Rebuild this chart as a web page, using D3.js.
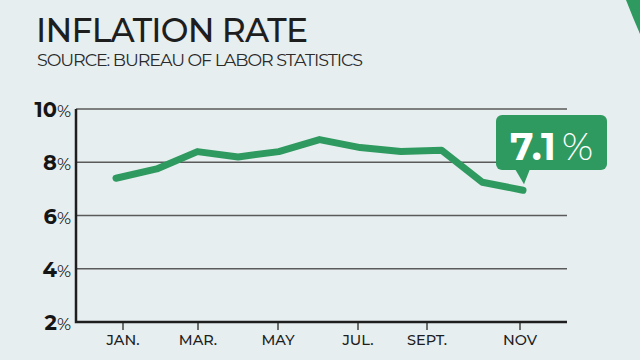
<!DOCTYPE html>
<html><head><meta charset="utf-8">
<script src="https://cdn.jsdelivr.net/npm/d3@7"></script>
<style>
html,body{margin:0;padding:0;background:#e7eef0;}
svg{display:block;font-family:Montserrat,"Open Sans","Noto Sans",sans-serif;}
</style></head>
<body><svg id="c" width="640" height="360"></svg>
<script>
const months = [1,2,3,4,5,6,7,8,9,10,11];
const inflation = [7.4, 7.75, 8.4, 8.2, 8.4, 8.85, 8.55, 8.4, 8.45, 7.25, 6.95];
const tickMonths = [1,3,5,7,9,11];
const tickLabels = ["JAN.","MAR.","MAY","JUL.","SEPT.","NOV"];
const yTicks = [2,4,6,8,10];
const latestLabel = "7.1";

const svg = d3.select("#c");
const green = "#2f9a5f";

// decorative corner shape
svg.append("path").attr("d","M626,0 Q633,18 640,34 L640,0 Z").attr("fill",green);

svg.append("text").attr("x",36).attr("y",42).attr("font-size",33).attr("font-weight",500)
  .attr("fill","#1e1e1e").attr("textLength",272).text("INFLATION RATE");
svg.append("text").attr("x",37).attr("y",66).attr("font-size",17.5).attr("fill","#2a2a2a")
  .attr("textLength",326).text("SOURCE: BUREAU OF LABOR STATISTICS");

const x = d3.scaleLinear().domain([1,11]).range([116,523]);
const y = d3.scaleLinear().domain([2,10]).range([322,109]);
const left = 76, right = 567;

// gridlines
svg.append("g").selectAll("line").data(yTicks.filter(d=>d>2)).join("line")
  .attr("x1",left).attr("x2",right).attr("y1",d=>y(d)).attr("y2",d=>y(d))
  .attr("stroke","#5a5a5a").attr("stroke-width",1.6);

// x axis
const xAxis = d3.axisBottom(x).tickValues(tickMonths).tickFormat((d,i)=>tickLabels[i]).tickSize(8).tickPadding(5);
const gx = svg.append("g").attr("transform",`translate(0,${y(2)})`).call(xAxis);
gx.select(".domain").remove();
gx.selectAll(".tick line").attr("stroke","#444").attr("stroke-width",1.5);
gx.selectAll(".tick text").attr("font-size",14.5).attr("font-weight",500).attr("fill","#1e1e1e")
  .attr("font-family",'Montserrat,"Open Sans",sans-serif');
// nudge labels to match reference positions
const labelX = [123,198,278,358,427,520];
gx.selectAll(".tick").attr("transform",(d,i)=>`translate(${labelX[i]},0)`);

// axis lines
svg.append("path").attr("d",`M${left},${y(10)}V${y(2)}H${right}`).attr("fill","none")
  .attr("stroke","#1e1e1e").attr("stroke-width",2.5);

// y labels
const yl = svg.append("g").selectAll("text").data(yTicks).join("text")
  .attr("x",71).attr("y",d=>y(d)+8).attr("text-anchor","end").attr("fill","#151515");
yl.append("tspan").attr("font-size",21).attr("font-weight",700).text(d=>d);
yl.append("tspan").attr("font-size",17).attr("font-weight",400).text("%");

// line
const line = d3.line().x((d,i)=>x(months[i])).y(d=>y(d));
svg.append("path").datum(inflation).attr("d",line).attr("fill","none")
  .attr("stroke",green).attr("stroke-width",7).attr("stroke-linecap","round").attr("stroke-linejoin","round");

// callout
const last = inflation.length-1;
const px = x(months[last]), py = y(inflation[last]);
const bx = 496, by = 115, bw = 111, bh = 55, r = 6;
const callout = svg.append("g");
callout.append("rect").attr("x",bx).attr("y",by).attr("width",bw).attr("height",bh).attr("rx",r).attr("fill",green);
callout.append("path").attr("d",`M${px-8},${by+bh-1}L${px+7},${by+bh-1}L${px+1},${py-6}Z`).attr("fill",green);
const ct = callout.append("text").attr("x",510).attr("y",160).attr("fill","#fff");
ct.append("tspan").attr("font-size",38).attr("font-weight",700).text(latestLabel);
ct.append("tspan").attr("dx",6).attr("font-size",38).attr("font-weight",300).text("%");
</script></body></html>
